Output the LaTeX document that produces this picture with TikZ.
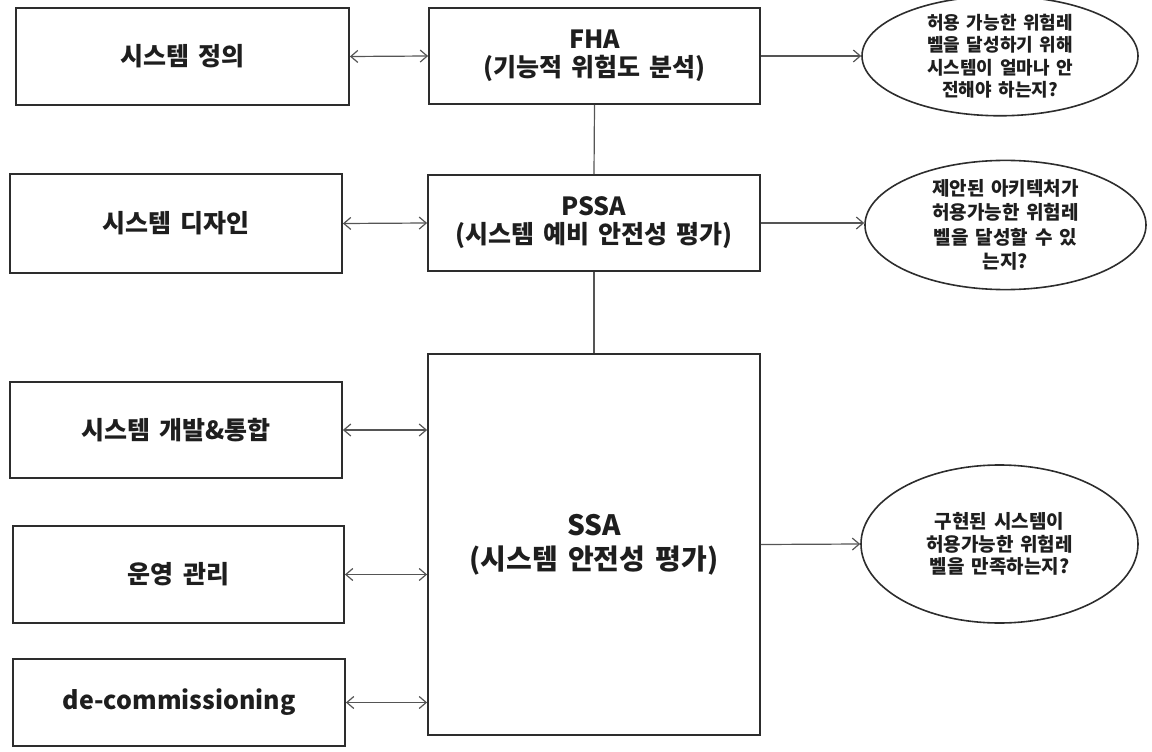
\documentclass[tikz,border=0pt]{standalone}
\usepackage{fontspec}
\setmainfont{Noto Sans CJK KR}[WordSpace=1.6]
\usetikzlibrary{arrows.meta,shapes.geometric}
\definecolor{ink}{RGB}{30,30,30}
\definecolor{frame}{RGB}{45,45,45}
\definecolor{wire}{RGB}{85,85,85}
\tikzset{
  stagebox/.style={draw=frame, line width=1.8pt, fill=white, inner sep=0pt,
    align=center, text=ink, font=\bfseries\fontsize{25}{28}\selectfont},
  procbox/.style={stagebox, font=\bfseries\fontsize{25}{28}\selectfont},
  question/.style={ellipse, draw=frame, line width=1.6pt, inner sep=0pt,
    align=center, text=ink, font=\bfseries\fontsize{18}{22.5}\selectfont},
  link/.style={draw=wire, line width=1.2pt},
  both/.style={link, {Straight Barb[length=7pt,width=12pt]}-{Straight Barb[length=7pt,width=12pt]}},
  ask/.style={link, -{Straight Barb[length=7pt,width=12pt]}}
}
\begin{document}
\begin{tikzpicture}[x=1pt,y=-1pt]
\useasboundingbox (0,0) rectangle (1152,752);

% lifecycle stages
\node[stagebox, minimum width=333pt, minimum height=97pt] (def) at (182.5,56.5) {시스템 정의};
\node[stagebox, minimum width=332pt, minimum height=99pt] (des) at (176,223.5) {시스템 디자인};
\node[stagebox, minimum width=332pt, minimum height=96pt] (dev) at (176,430) {시스템 개발\&통합};
\node[stagebox, minimum width=331pt, minimum height=97pt] (ops) at (178.5,574.5) {운영 관리};
\node[stagebox, minimum width=332pt, minimum height=87pt] (dec) at (179,702.5) {de-commissioning};

% safety assessment processes
\node[procbox, minimum width=331pt, minimum height=96pt] (fha) at (594.5,56) {FHA\\(기능적 위험도 분석)};
\node[procbox, minimum width=332pt, minimum height=96pt] (pssa) at (594,223) {PSSA\\(시스템 예비 안전성 평가)};
\node[procbox, minimum width=332pt, minimum height=381pt,
      font=\bfseries\fontsize{28}{34}\selectfont] (ssa) at (594,544.5) {SSA\\(시스템 안전성 평가)};

% questions answered by each process
\node[question, minimum width=276pt, minimum height=98pt] (q1) at (1000,56)
  {허용 가능한 위험레\\벨을 달성하기 위해\\시스템이 얼마나 안\\전해야 하는지?};
\node[question, minimum width=281pt, minimum height=125pt,
      font=\bfseries\fontsize{19}{24.5}\selectfont] (q2) at (1005.5,225)
  {제안된 아키텍처가\\허용가능한 위험레\\벨을 달성할 수 있\\는지?};
\node[question, minimum width=277pt, minimum height=158pt,
      font=\bfseries\fontsize{19}{22.5}\selectfont] (q3) at (999.5,544)
  {구현된 시스템이\\허용가능한 위험레\\벨을 만족하는지?};

% process chain
\draw[link] (fha.south) -- (pssa.north);
\draw[link] (pssa.south) -- (ssa.north);

% stage <-> process
\draw[both] (def.east) -- (fha.west);
\draw[both] (des.east) -- (pssa.west);
\draw[both] (dev.east) -- (dev.east -| ssa.west);
\draw[both] (ops.east) -- (ops.east -| ssa.west);
\draw[both] (dec.east) -- (dec.east -| ssa.west);

% process -> question
\draw[ask] (fha.east) -- (q1.west);
\draw[ask] (pssa.east) -- (pssa.east -| q2.west);
\draw[ask] (ssa.east) -- (q3.west);
\end{tikzpicture}
\end{document}
